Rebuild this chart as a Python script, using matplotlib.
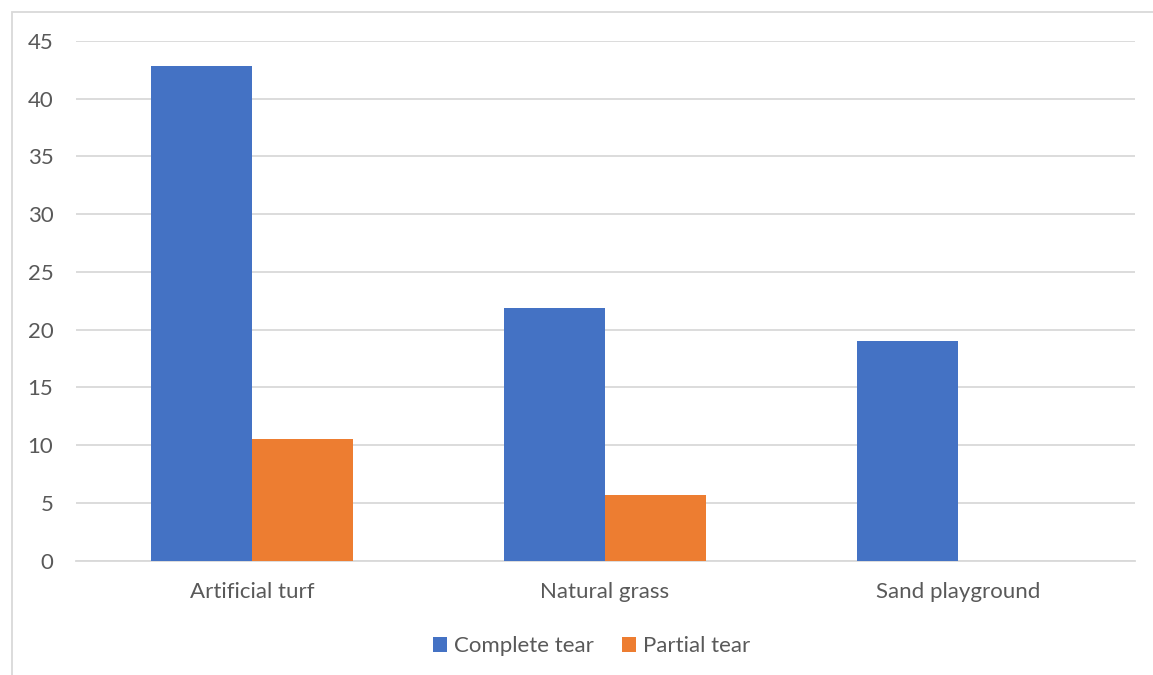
import numpy as np
import matplotlib.pyplot as plt
from matplotlib.patches import Rectangle

# ACL tear counts by playing surface
surfaces = ['Artificial turf', 'Natural grass', 'Sand playground']
complete_tear = [42.8, 21.9, 19.0]
partial_tear = [10.5, 5.7, 0]

plt.rcParams['font.family'] = ['Lato', 'DejaVu Sans']
text_gray = '#595959'
grid_gray = '#d9d9d9'

W, H = 1153, 675
fig = plt.figure(figsize=(W / 100, H / 100), dpi=100)

# outer chart frame (only top and left edges fall inside the image)
fig.patches.append(Rectangle((12 / W, -0.1), 1.2, 1 - 12 / H + 0.1, transform=fig.transFigure,
                             fill=False, edgecolor=grid_gray, linewidth=1.3))

ax = fig.add_axes([75.5 / W, 1 - 560.7 / H, (1134.5 - 75.5) / W, (560.7 - 41) / H])

x = np.arange(len(surfaces))
w = 0.2857
ax.bar(x - w / 2, complete_tear, w, color='#4472C4', label='Complete tear', zorder=3)
ax.bar(x + w / 2, partial_tear, w, color='#ED7D31', label='Partial tear', zorder=3)

ax.set_xlim(-0.5, 2.5)
ax.set_ylim(0, 45)
ax.set_yticks(range(0, 46, 5))
ax.set_xticks(x)
ax.set_xticklabels(surfaces)
ax.yaxis.grid(True, color=grid_gray, linewidth=1.3, zorder=0)
ax.set_axisbelow(True)
for s in ['top', 'right', 'left']:
    ax.spines[s].set_visible(False)
ax.spines['bottom'].set_color(grid_gray)
ax.spines['bottom'].set_linewidth(1.3)
ax.tick_params(axis='both', length=0, labelsize=16, labelcolor=text_gray)
ax.tick_params(axis='y', pad=16)
ax.tick_params(axis='x', pad=15)

fig.legend(loc='center', bbox_to_anchor=(591.5 / W, 1 - 646 / H), ncol=2, frameon=False,
           fontsize=16, labelcolor=text_gray, handlelength=0.65, handleheight=0.65,
           handletextpad=0.3, columnspacing=1.25)

fig.savefig('out.png', dpi=100)
